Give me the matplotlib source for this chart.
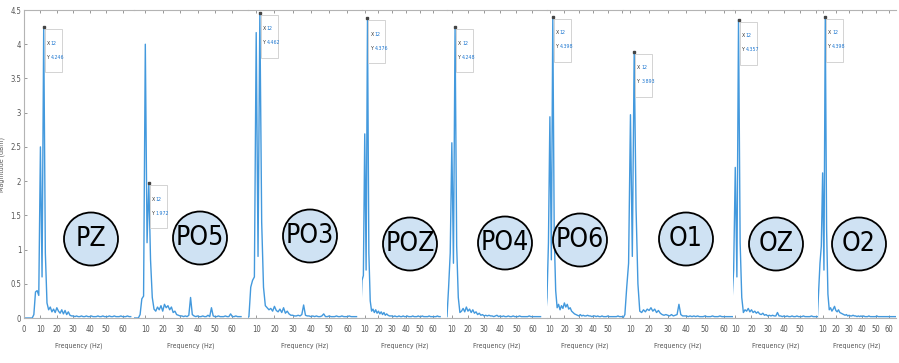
import numpy as np
import matplotlib
matplotlib.use("Agg")
import matplotlib.pyplot as plt
import matplotlib.transforms as mtransforms
from matplotlib.patches import Ellipse, Rectangle

plt.rcParams['font.family'] = ['DejaVu Sans']
plt.rcParams['font.stretch'] = 'condensed'

# electrode names and FFT magnitude (1 Hz bins, 0..65 Hz), 12 Hz SSVEP stimulus
channels = ['PZ', 'PO5', 'PO3', 'POZ', 'PO4', 'PO6', 'O1', 'OZ', 'O2']
freq = np.arange(66)

pz = [0, 0, 0, 0, 0, 0, 0.05, 0.38, 0.40, 0.33,
      2.50, 0.60, 4.246, 0.95, 0.22, 0.12, 0.16, 0.09, 0.13, 0.08,
      0.15, 0.10, 0.07, 0.12, 0.06, 0.11, 0.05, 0.09, 0.04, 0.03,
      0.03, 0.02, 0.03, 0.02, 0.02, 0.03, 0.02, 0.02, 0.03, 0.02,
      0.02, 0.03, 0.02, 0.02, 0.02, 0.03, 0.02, 0.02, 0.03, 0.02,
      0.02, 0.02, 0.03, 0.02, 0.02, 0.03, 0.02, 0.02, 0.02, 0.03,
      0.02, 0.02, 0.02, 0.03, 0.02, 0.02]
po5 = [0, 0, 0, 0, 0, 0, 0.0, 0.05, 0.28, 0.32,
       4.00, 1.10, 1.972, 0.85, 0.30, 0.13, 0.10, 0.16, 0.12, 0.18,
       0.10, 0.20, 0.15, 0.18, 0.12, 0.16, 0.08, 0.10, 0.05, 0.04,
       0.03, 0.03, 0.02, 0.03, 0.02, 0.04, 0.30, 0.05, 0.03, 0.02,
       0.03, 0.02, 0.02, 0.03, 0.02, 0.02, 0.04, 0.02, 0.15, 0.03,
       0.02, 0.02, 0.03, 0.02, 0.02, 0.02, 0.03, 0.02, 0.02, 0.06,
       0.02, 0.02, 0.03, 0.02, 0.02, 0.02]
po3 = [0, 0, 0, 0, 0, 0, 0.02, 0.45, 0.55, 0.60,
       4.17, 0.90, 4.462, 1.40, 0.45, 0.18, 0.15, 0.12, 0.14, 0.10,
       0.17, 0.11, 0.09, 0.13, 0.08, 0.15, 0.07, 0.10, 0.06, 0.04,
       0.04, 0.03, 0.03, 0.04, 0.03, 0.05, 0.19, 0.04, 0.03, 0.03,
       0.02, 0.03, 0.02, 0.03, 0.02, 0.02, 0.03, 0.06, 0.02, 0.02,
       0.03, 0.02, 0.02, 0.02, 0.03, 0.02, 0.02, 0.03, 0.02, 0.02,
       0.02, 0.03, 0.02, 0.02, 0.02, 0.02]
poz = [0, 0, 0, 0, 0, 0, 0.0, 0.05, 0.55, 0.62,
       2.69, 0.70, 4.376, 0.95, 0.25, 0.10, 0.13, 0.08, 0.12, 0.07,
       0.10, 0.06, 0.09, 0.05, 0.08, 0.04, 0.06, 0.04, 0.03, 0.03,
       0.03, 0.02, 0.03, 0.02, 0.02, 0.03, 0.02, 0.02, 0.03, 0.02,
       0.02, 0.03, 0.02, 0.02, 0.02, 0.03, 0.02, 0.02, 0.02, 0.03,
       0.02, 0.02, 0.03, 0.02, 0.02, 0.02, 0.02, 0.03, 0.02, 0.02,
       0.02, 0.02, 0.02, 0.03, 0.02, 0.02]
po4 = [0, 0, 0, 0, 0, 0, 0.0, 0.02, 0.45, 0.95,
       2.56, 0.80, 4.248, 1.05, 0.30, 0.08, 0.10, 0.14, 0.09, 0.16,
       0.10, 0.13, 0.08, 0.12, 0.07, 0.09, 0.05, 0.07, 0.04, 0.05,
       0.03, 0.04, 0.03, 0.04, 0.03, 0.03, 0.02, 0.03, 0.04, 0.02,
       0.03, 0.02, 0.03, 0.02, 0.02, 0.03, 0.02, 0.02, 0.03, 0.02,
       0.02, 0.02, 0.03, 0.02, 0.02, 0.02, 0.02, 0.02, 0.03, 0.02,
       0.02, 0.02, 0.02, 0.02, 0.02, 0.02]
po6 = [0, 0, 0, 0, 0, 0, 0.0, 0.02, 0.30, 1.10,
       2.94, 0.85, 4.398, 1.20, 0.40, 0.15, 0.20, 0.12, 0.18, 0.14,
       0.22, 0.16, 0.20, 0.13, 0.15, 0.10, 0.08, 0.06, 0.05, 0.04,
       0.03, 0.05, 0.03, 0.04, 0.03, 0.03, 0.04, 0.03, 0.03, 0.02,
       0.03, 0.03, 0.02, 0.03, 0.02, 0.02, 0.03, 0.02, 0.02, 0.02,
       0.03, 0.02, 0.02, 0.02, 0.02, 0.02, 0.02, 0.03, 0.02, 0.02,
       0.02, 0.02, 0.02, 0.02, 0.02, 0.02]
o1 = [0, 0, 0, 0, 0, 0, 0.0, 0.05, 0.45, 0.80,
      2.97, 0.90, 3.893, 1.60, 0.50, 0.10, 0.08, 0.12, 0.09, 0.13,
      0.11, 0.15, 0.10, 0.13, 0.08, 0.11, 0.07, 0.05, 0.04, 0.05,
      0.04, 0.03, 0.05, 0.03, 0.04, 0.05, 0.20, 0.05, 0.03, 0.03,
      0.03, 0.02, 0.03, 0.02, 0.03, 0.02, 0.03, 0.02, 0.02, 0.02,
      0.03, 0.02, 0.02, 0.02, 0.03, 0.02, 0.02, 0.02, 0.03, 0.02,
      0.02, 0.02, 0.02, 0.02, 0.02, 0.02]
oz = [0, 0, 0, 0, 0, 0, 0.0, 0.05, 0.25, 0.70,
      2.20, 0.60, 4.357, 1.10, 0.30, 0.08, 0.12, 0.10, 0.14, 0.09,
      0.12, 0.08, 0.10, 0.07, 0.09, 0.06, 0.05, 0.07, 0.04, 0.05,
      0.03, 0.04, 0.03, 0.04, 0.03, 0.03, 0.08, 0.03, 0.03, 0.02,
      0.03, 0.02, 0.03, 0.02, 0.02, 0.03, 0.02, 0.02, 0.03, 0.02,
      0.02, 0.02, 0.03, 0.02, 0.02, 0.02, 0.02, 0.03, 0.02, 0.02,
      0.02, 0.02, 0.02, 0.02, 0.02, 0.02]
o2 = [0, 0, 0, 0, 0, 0, 0.0, 0.40, 0.80, 1.05,
      2.12, 0.70, 4.398, 1.30, 0.35, 0.12, 0.15, 0.10, 0.13, 0.17,
      0.11, 0.09, 0.12, 0.08, 0.07, 0.06, 0.05, 0.04, 0.05, 0.03,
      0.04, 0.03, 0.03, 0.04, 0.03, 0.03, 0.02, 0.03, 0.02, 0.03,
      0.02, 0.03, 0.02, 0.02, 0.02, 0.03, 0.02, 0.02, 0.02, 0.02,
      0.02, 0.03, 0.02, 0.02, 0.02, 0.02, 0.02, 0.02, 0.02, 0.02,
      0.02, 0.02, 0.02, 0.02, 0.02, 0.02]
spectra = [pz, po5, po3, poz, po4, po6, o1, oz, o2]
stim_freq = 12

# panel layout in pixels (left, right) and the visible frequency window
W, H = 899, 363
y_zero, y_top = 318, 10
panel_px = [(24, 134), (134, 248), (248, 362), (362, 447), (447, 547),
            (547, 623), (623, 733), (733, 818), (818, 896)]
panel_hz = [(0, 67), (3.5, 69), (5.5, 68), (8, 70), (7, 69),
            (8, 60.5), (6, 65), (8.6, 61), (6.5, 65.5)]
badge_px = [(91, 239), (200, 238), (310, 236), (410, 244), (505, 243),
            (580, 240), (686, 239), (776, 244), (859, 244)]

LINE = '#4399dd'
AXC = '#b4b4b4'
TXT = '#555555'

fig = plt.figure(figsize=(W / 100, H / 100), dpi=100)

for i, (name, amp) in enumerate(zip(channels, spectra)):
    left, right = panel_px[i]
    ax = fig.add_axes([left / W, 1 - y_zero / H, (right - left) / W,
                       (y_zero - y_top) / H])
    ax.patch.set_alpha(0)
    ax.plot(freq, amp, color=LINE, lw=1.0, zorder=2)
    lo, hi = panel_hz[i]
    ticks = [t for t in range(0, 70, 10) if lo <= t <= hi]
    ax.set_xticks(ticks)
    # labels hugging the right edge would run into the next panel
    ax.set_xticklabels([str(t) if t < hi - 1.2 else '' for t in ticks])
    ax.set_xlim(lo, hi)
    ax.set_ylim(0, 4.5)

    ax.spines['right'].set_visible(False)
    ax.spines['top'].set_color(AXC)
    ax.spines['bottom'].set_color(AXC)
    ax.tick_params(axis='x', direction='in', top=True, length=2.5, width=0.6,
                   color='#888888', labelcolor=TXT, labelsize=5.5, pad=5)
    if i == 0:
        ax.spines['left'].set_color(AXC)
        ax.set_yticks(np.arange(0, 4.6, 0.5))
        ax.set_yticklabels(['0', '0.5', '1', '1.5', '2', '2.5', '3', '3.5',
                            '4', '4.5'])
        ax.tick_params(axis='y', direction='in', length=2, width=0.6,
                       color='#888888', labelcolor=TXT, labelsize=5.5, pad=2)
        ax.set_ylabel('Magnitude (dBm)', fontsize=5, color=TXT, labelpad=4)
    else:
        ax.spines['left'].set_visible(False)
        ax.tick_params(axis='y', left=False, labelleft=False)
    ax.set_xlabel('Frequency (Hz)', fontsize=5, color=TXT, labelpad=6)

    # data tip at the stimulus frequency
    k = int(np.where(freq == stim_freq)[0][0])
    val = amp[k]
    ax.plot([stim_freq], [val], marker='s', ms=1.6, color='#444444',
            zorder=6, clip_on=False)
    anchor = mtransforms.ScaledTranslation(stim_freq, val, ax.transData)
    box = Rectangle((1, -45), 17, 43,
                    transform=mtransforms.IdentityTransform() + anchor,
                    fc='white', ec='#cccccc', lw=0.6, zorder=5, clip_on=False)
    ax.add_artist(box)
    for dy, key, txt in [(-16, 'X', '%d' % stim_freq), (-30, 'Y', '%.3f' % val)]:
        ax.annotate(key, xy=(stim_freq, val), xytext=(3, dy),
                    textcoords='offset pixels', fontsize=3.8, color='#333333',
                    ha='left', va='center', zorder=7)
        ax.annotate(txt, xy=(stim_freq, val), xytext=(7, dy),
                    textcoords='offset pixels', fontsize=3.8, color='#1f78d1',
                    ha='left', va='center', zorder=7)

    # electrode badge
    cx, cy = badge_px[i]
    fig.add_artist(Ellipse((cx / W, 1 - cy / H), 54 / W, 53 / H,
                           transform=fig.transFigure, fc='#cfe2f3',
                           ec='black', lw=1.3, zorder=10))
    fig.text(cx / W, 1 - cy / H, name, ha='center', va='center',
             fontsize=19, color='black', zorder=11)

fig.savefig('out.png', dpi=100)
